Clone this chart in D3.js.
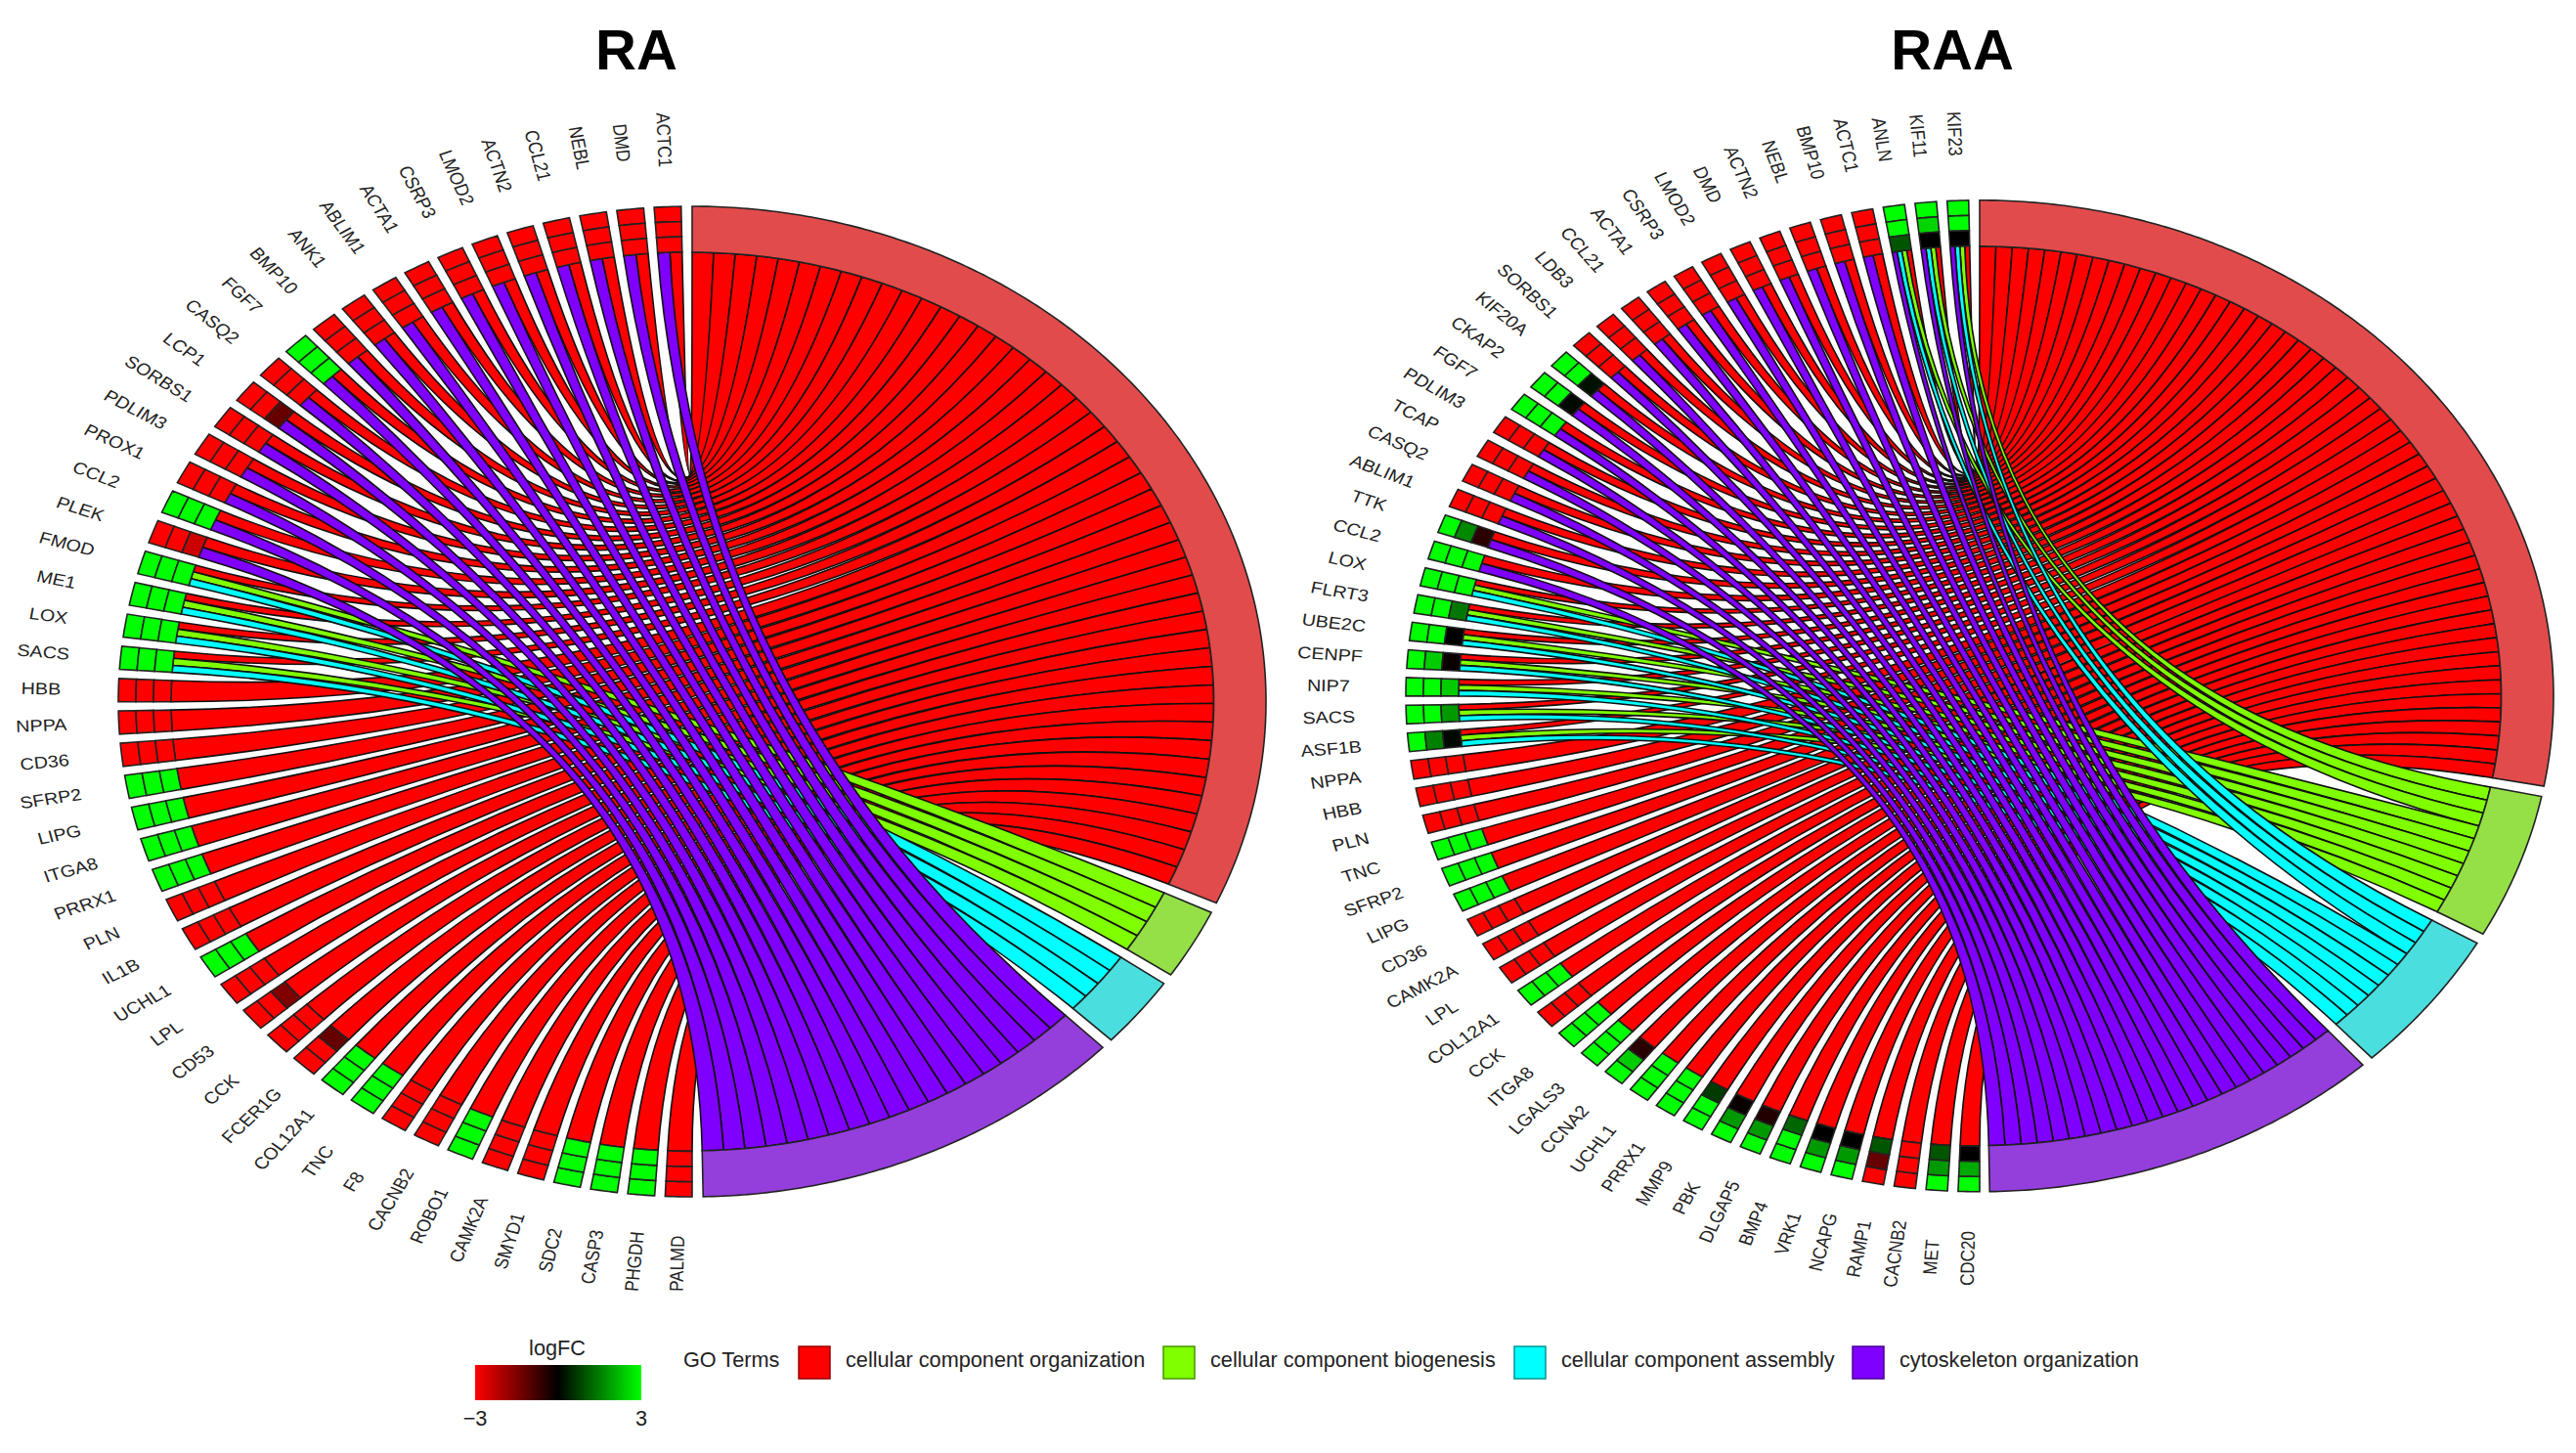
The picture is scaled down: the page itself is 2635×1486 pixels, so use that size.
<!DOCTYPE html>
<html>
<head>
<meta charset="utf-8">
<script src="https://cdnjs.cloudflare.com/ajax/libs/d3/7.8.5/d3.min.js"></script>
<style>
  html, body { margin: 0; padding: 0; background: #fff; }
  text { font-family: "Liberation Sans", Arial, sans-serif; fill: #222; }
</style>
</head>
<body>
<svg id="chart" width="2635" height="1486"></svg>
<script>
var ra_genes = ['ACTC1','DMD','NEBL','CCL21','ACTN2','LMOD2','CSRP3','ACTA1','ABLIM1','ANK1','BMP10','FGF7',
  'CASQ2','LCP1','SORBS1','PDLIM3','PROX1','CCL2','PLEK','FMOD','ME1','LOX','SACS','HBB','NPPA','CD36','SFRP2',
  'LIPG','ITGA8','PRRX1','PLN','IL1B','UCHL1','LPL','CD53','CCK','FCER1G','COL12A1','TNC','F8','CACNB2','ROBO1',
  'CAMK2A','SMYD1','SDC2','CASP3','PHGDH','PALMD'];

// three logFC cells per gene, outer ring first
var ra_logfc = [
  [-3,-3,-3],[-3,-3,-3],[-3,-3,-3],[-3,-3,-3],[-3,-3,-3],[-3,-3,-3],[-3,-3,-3],[-3,-3,-3],[-3,-3,-3],[-3,-3,-3],
  [-3,-3,-3],[3,3,3],[-3,-3,-3],[-3,-3,-1.2],[-3,-3,-3],[-3,-3,-3],[-3,-3,-3],[3,3,3],[-3,-3,-2.4],[3,3,3],
  [3,3,3],[3,3,3],[3,3,3],[-3,-3,-3],[-3,-3,-3],[-3,-3,-3],[3,3,3],[3,3,3],[3,3,3],[3,3,3],
  [-3,-3,-3],[-3,-3,-3],[3,3,3],[-3,-3,-3],[-3,-3,-1.5],[-3,-3,-3],[-3,-3,-1.2],[3,3,3],[3,3,3],[-3,-3,-3],
  [-3,-3,-3],[3,3,3],[-3,-3,-3],[-3,-3,-3],[3,3,3],[3,3,3],[3,3,3],[-3,-3,-3]
];

var ra_organization = ra_genes;
var ra_biogenesis = ['FMOD','ME1','LOX','SACS'];
var ra_assembly = ['FMOD','ME1','LOX','SACS'];
var ra_cytoskeleton = ['ACTC1','DMD','NEBL','CCL21','ACTN2','LMOD2','CSRP3','ACTA1','ABLIM1','ANK1','BMP10','FGF7',
  'CASQ2','LCP1','SORBS1','PDLIM3','PROX1','CCL2','PLEK'];
var ra_term_deg = [114, 8.3, 8.4, 44.6];

var raa_genes = ['KIF23','KIF11','ANLN','ACTC1','BMP10','NEBL','ACTN2','DMD','LMOD2','CSRP3','ACTA1','CCL21','LDB3',
  'SORBS1','KIF20A','CKAP2','FGF7','PDLIM3','TCAP','CASQ2','ABLIM1','TTK','CCL2','LOX','FLRT3','UBE2C','CENPF',
  'NIP7','SACS','ASF1B','NPPA','HBB','PLN','TNC','SFRP2','LIPG','CD36','CAMK2A','LPL','COL12A1','CCK','ITGA8',
  'LGALS3','CCNA2','UCHL1','PRRX1','MMP9','PBK','DLGAP5','BMP4','VRK1','NCAPG','RAMP1','CACNB2','MET','CDC20'];

var raa_logfc = [
  [3,3,0],[3,2.5,0],[3,3,1],[-3,-3,-3],[-3,-3,-3],[-3,-3,-3],[-3,-3,-3],[-3,-3,-3],[-3,-3,-3],[-3,-3,-3],
  [-3,-3,-3],[-3,-3,-3],[-3,-3,-3],[-3,-3,-3],[3,3,0.2],[3,3,0.1],[3,3,3],[-3,-3,-3],[-3,-3,-3],[-3,-3,-3],
  [-3,-3,-3],[3,1.6,-0.5],[3,3,3],[3,3,3],[3,3,1.4],[3,3,0],[3,2.4,-0.1],[3,3,2.4],[3,3,1.8],[3,1.5,0.1],
  [-3,-3,-3],[-3,-3,-3],[-3,-3,-3],[3,3,3],[3,3,3],[3,3,3],[-3,-3,-3],[-3,-3,-3],[-3,-3,-3],[3,3,3],
  [-3,-3,-3],[3,3,3],[3,3,3],[3,2.4,-0.5],[3,3,3],[3,3,3],[3,3,0.7],[3,1.8,-0.1],[3,1.8,-0.4],[3,3,1.2],
  [3,1.8,0],[3,1.8,0],[-3,-1.2,1],[-3,-3,-3],[3,1.8,1],[3,2,0]
];

var raa_organization = raa_genes;
var raa_biogenesis = ['KIF23','KIF11','ANLN','LOX','FLRT3','UBE2C','CENPF','NIP7','SACS','ASF1B'];
var raa_assembly = ['KIF23','KIF11','ANLN','LOX','FLRT3','UBE2C','CENPF','NIP7','SACS','ASF1B'];
var raa_cytoskeleton = raa_genes.slice(0, 23);
var raa_term_deg = [100.5, 17, 17, 40.9];

var term_names = ['cellular component organization','cellular component biogenesis',
  'cellular component assembly','cytoskeleton organization'];
var ribbon_colors = ['#ff0000','#7fff00','#00ffff','#7f00ff'];
var term_colors = ['#e24b4b','#94e046','#4bdede','#943edc'];

var term_gap = 1.2;
var gene_inner = 0.908;
var term_inner_x = 0.909;
var term_inner_y = 0.907;
var label_radius = 1.135;
var line_w = 1.6;

var svg = d3.select('#chart');
var rad = d => d * Math.PI / 180;
var lfc_color = d3.scaleLinear().domain([-3, 0, 3]).range(['#ff0000', '#000000', '#00ff00']).clamp(true);

function chord_graph(opts) {
  var x = d3.scaleLinear().domain([-1, 1]).range([opts.cx - opts.rx, opts.cx + opts.rx]);
  var y = d3.scaleLinear().domain([-1, 1]).range([opts.cy - opts.ry, opts.cy + opts.ry]);

  var gph = svg.append('g').attr('class', 'chord');

  // a point on an ellipse: angle clockwise from 12 o'clock
  var pt = (rx, ry, a) => [x(rx * Math.sin(rad(a))), y(-ry * Math.cos(rad(a)))];

  function add_arc(p, rx, ry, a0, a1, move) {
    var n = Math.max(2, Math.ceil(Math.abs(a1 - a0) / 0.5));
    d3.range(n + 1).forEach(i => {
      var c = pt(rx, ry, a0 + (a1 - a0) * i / n);
      if (i === 0 && move) p.moveTo(c[0], c[1]); else p.lineTo(c[0], c[1]);
    });
  }

  function band_path(r0x, r0y, r1x, r1y, a0, a1) {
    var p = d3.path();
    add_arc(p, r0x, r0y, a0, a1, true);
    add_arc(p, r1x, r1y, a1, a0, false);
    p.closePath();
    return p.toString();
  }

  var gene = d3.scaleBand().domain(opts.genes).range([358.9, 180]).paddingInner(opts.gene_pad).paddingOuter(0);
  var bw = gene.bandwidth();

  var pos = 0;
  var terms = opts.members.map((m, t) => {
    var start = pos;
    pos += opts.term_deg[t] + term_gap;
    return { t: t, start: start, end: start + opts.term_deg[t], members: m };
  });

  // ribbons, one term after the other
  terms.forEach(tm => {
    var unit = (tm.end - tm.start) / tm.members.length;
    tm.members.forEach((g, k) => {
      var here = opts.members.map(m => m.indexOf(g) >= 0);
      var n = d3.sum(here, d => d ? 1 : 0);
      var order = d3.sum(here.slice(0, tm.t), d => d ? 1 : 0);
      var g_hi = gene(g) + bw - bw * order / n;
      var g_lo = g_hi - bw / n;
      var t_lo = tm.start + k * unit;
      var t_hi = t_lo + unit;

      var p = d3.path();
      add_arc(p, gene_inner, gene_inner, g_lo, g_hi, true);
      var t1 = pt(term_inner_x, term_inner_y, t_lo);
      p.quadraticCurveTo(x(0), y(0), t1[0], t1[1]);
      add_arc(p, term_inner_x, term_inner_y, t_lo, t_hi, false);
      var g1 = pt(gene_inner, gene_inner, g_lo);
      p.quadraticCurveTo(x(0), y(0), g1[0], g1[1]);
      p.closePath();

      gph.append('path')
        .attr('d', p.toString())
        .attr('fill', ribbon_colors[tm.t])
        .attr('stroke', '#111')
        .attr('stroke-width', line_w);
    });

    gph.append('path')
      .attr('d', band_path(1, 1, term_inner_x, term_inner_y, tm.start, tm.end))
      .attr('fill', term_colors[tm.t])
      .attr('stroke', '#222')
      .attr('stroke-width', line_w);
  });

  // logFC cells and gene labels
  var cell_h = (1 - gene_inner) / 3;
  opts.genes.forEach((g, i) => {
    opts.logfc[i].forEach((v, c) => {
      var r0 = 1 - cell_h * c;
      var r1 = r0 - cell_h;
      gph.append('path')
        .attr('d', band_path(r0, r0, r1, r1, gene(g), gene(g) + bw))
        .attr('fill', lfc_color(v))
        .attr('stroke', '#222')
        .attr('stroke-width', line_w);
    });

    var a = gene(g) + bw / 2;
    var c = pt(label_radius, label_radius, a);
    gph.append('text')
      .attr('transform', `translate(${ c[0] },${ c[1] }) scale(${ opts.rx / opts.ry },1) rotate(${ a - 270 })`)
      .attr('text-anchor', 'middle')
      .attr('dominant-baseline', 'central')
      .attr('font-size', 17)
      .text(g);
  });

  svg.append('text')
    .attr('x', opts.title_x)
    .attr('y', 71)
    .attr('text-anchor', 'middle')
    .attr('font-size', 58)
    .attr('font-weight', 'bold')
    .style('fill', '#000')
    .text(opts.title);
}

function legend() {
  var bar = d3.scaleLinear().domain([-3, 3]).range([486, 656]);
  var grad = svg.append('defs').append('linearGradient').attr('id', 'lfc-grad');
  [-3, 0, 3].forEach(v => {
    grad.append('stop')
      .attr('offset', (v + 3) / 6)
      .attr('stop-color', lfc_color(v));
  });

  svg.append('rect')
    .attr('x', bar(-3)).attr('y', 1396)
    .attr('width', bar(3) - bar(-3)).attr('height', 36)
    .attr('fill', 'url(#lfc-grad)');

  svg.append('text').attr('x', bar(0) - 1).attr('y', 1386)
    .attr('text-anchor', 'middle').attr('font-size', 21.7).text('logFC');

  [-3, 3].forEach(v => {
    svg.append('text').attr('x', bar(v)).attr('y', 1458)
      .attr('text-anchor', 'middle').attr('font-size', 21.7)
      .text(v < 0 ? '\u2212' + Math.abs(v) : v);
  });

  svg.append('text').attr('x', 699).attr('y', 1398).attr('font-size', 21.7).text('GO Terms');

  var key_x = [817, 1190, 1549, 1895];
  term_names.forEach((name, i) => {
    svg.append('rect')
      .attr('x', key_x[i]).attr('y', 1377)
      .attr('width', 32).attr('height', 33)
      .attr('fill', ribbon_colors[i])
      .attr('stroke', d3.color(ribbon_colors[i]).darker(1.5))
      .attr('stroke-width', 1.5);

    svg.append('text')
      .attr('x', key_x[i] + 48).attr('y', 1398)
      .attr('font-size', 21.7)
      .text(name);
  });
}

chord_graph({
  title: 'RA', title_x: 651,
  cx: 708, cy: 717.5, rx: 587, ry: 506.5,
  gene_pad: 0.28,
  genes: ra_genes, logfc: ra_logfc,
  members: [ra_organization, ra_biogenesis, ra_assembly, ra_cytoskeleton],
  term_deg: ra_term_deg
});

chord_graph({
  title: 'RAA', title_x: 1997,
  cx: 2025, cy: 711.75, rx: 587, ry: 507,
  gene_pad: 0.33,
  genes: raa_genes, logfc: raa_logfc,
  members: [raa_organization, raa_biogenesis, raa_assembly, raa_cytoskeleton],
  term_deg: raa_term_deg
});

legend();
</script>
</body>
</html>
